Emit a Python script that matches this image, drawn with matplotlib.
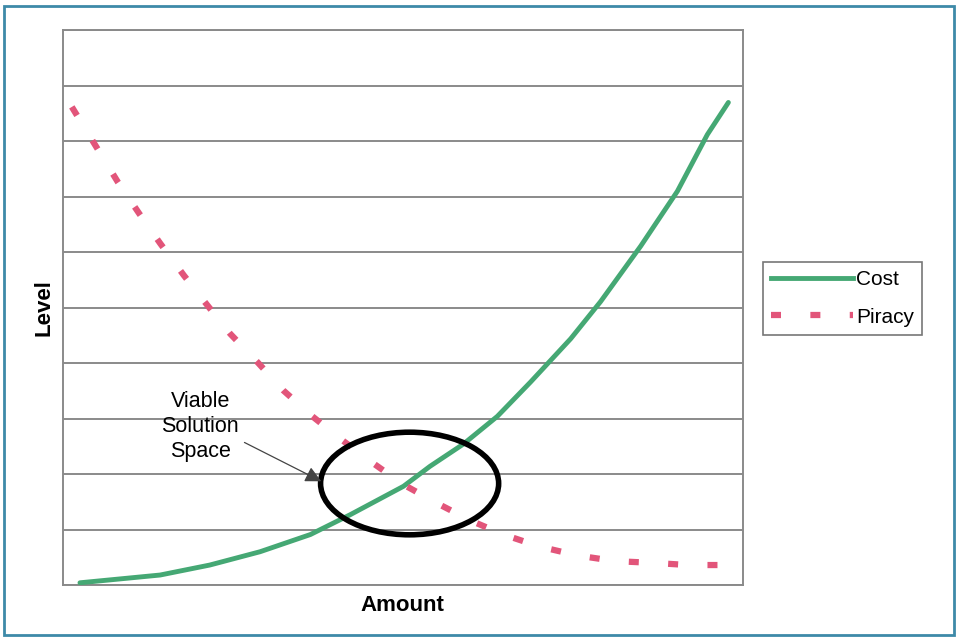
import matplotlib.pyplot as plt
import matplotlib.patches as mpatches
from matplotlib.lines import Line2D

plt.rcParams['font.family'] = ['Liberation Sans', 'DejaVu Sans']

# values (amount 0-10, level 0-10)
cost_x = [0.25, 1.43, 2.16, 2.90, 3.64, 4.23, 5.01, 5.40, 5.89, 6.39, 6.88, 7.47, 7.91, 8.50, 9.04, 9.48, 9.79]
cost_y = [0.04, 0.18, 0.36, 0.60, 0.91, 1.27, 1.78, 2.14, 2.54, 3.04, 3.66, 4.44, 5.11, 6.11, 7.10, 8.12, 8.70]
piracy_x = [0.13, 0.50, 0.81, 1.12, 1.43, 1.78, 2.12, 2.46, 2.86, 3.24, 3.67, 4.11, 4.57,
            5.01, 5.51, 6.00, 6.48, 7.02, 7.58, 8.13, 8.67, 9.20, 9.75]
piracy_y = [8.62, 7.88, 7.26, 6.70, 6.16, 5.58, 5.05, 4.53, 4.02, 3.51, 3.04, 2.61, 2.19,
            1.81, 1.47, 1.16, 0.91, 0.69, 0.53, 0.43, 0.40, 0.36, 0.36]
levels = list(range(0, 11))

green = '#45a874'
pink = '#e2557a'
grid_col = '#8a8a8a'
dash = (0, (1.6, 4.7))

fig = plt.figure(figsize=(9.6, 6.39), dpi=100)
ax = fig.add_axes([0.0656, 0.0845, 0.708, 0.868])

for lv in levels:
    ax.axhline(lv, color=grid_col, lw=1.4, zorder=1)

ax.plot(cost_x, cost_y, color=green, lw=3.5, solid_capstyle='round',
        solid_joinstyle='round', zorder=3)
ax.plot(piracy_x, piracy_y, color=pink, lw=4.5, linestyle=dash, zorder=3)

# viable solution space
ell = mpatches.Ellipse((5.10, 1.83), 2.62, 1.85, fill=False, ec='black', lw=4, zorder=4)
ax.add_patch(ell)
ax.text(2.02, 2.86, 'Viable\nSolution\nSpace', ha='center', va='center',
        fontsize=15.5, linespacing=1.25, zorder=5)
ax.annotate('', xy=(3.80, 1.87), xytext=(2.67, 2.57),
            arrowprops=dict(arrowstyle='-|>', color='#444444', lw=0.9,
                            mutation_scale=24, shrinkA=0, shrinkB=0), zorder=5)

ax.set_xlim(0, 10)
ax.set_ylim(0, 10)
ax.set_xticks([])
ax.set_yticks([])
for sp in ax.spines.values():
    sp.set_color(grid_col)
    sp.set_linewidth(1.4)

ax.set_xlabel('Amount', fontsize=16, fontweight='bold', labelpad=7)
ax.set_ylabel('Level', fontsize=16, fontweight='bold', labelpad=6)

handles = [Line2D([], [], color=green, lw=3.5),
           Line2D([], [], color=pink, lw=4.5, linestyle=dash)]
leg = fig.legend(handles, ['Cost', 'Piracy'], loc='center left',
                 bbox_to_anchor=(0.784, 0.533), fontsize=15, frameon=True,
                 fancybox=False, edgecolor='#555555', handlelength=3.9,
                 handletextpad=0.15, borderpad=0.4, labelspacing=0.9)
leg.get_frame().set_linewidth(1.2)

# outer frame of the picture
fig.patches.append(mpatches.Rectangle((0.004, 0.006), 0.99, 0.985, transform=fig.transFigure,
                                      fill=False, ec='#3d8aa8', lw=2))

fig.savefig('out.png', dpi=100)
